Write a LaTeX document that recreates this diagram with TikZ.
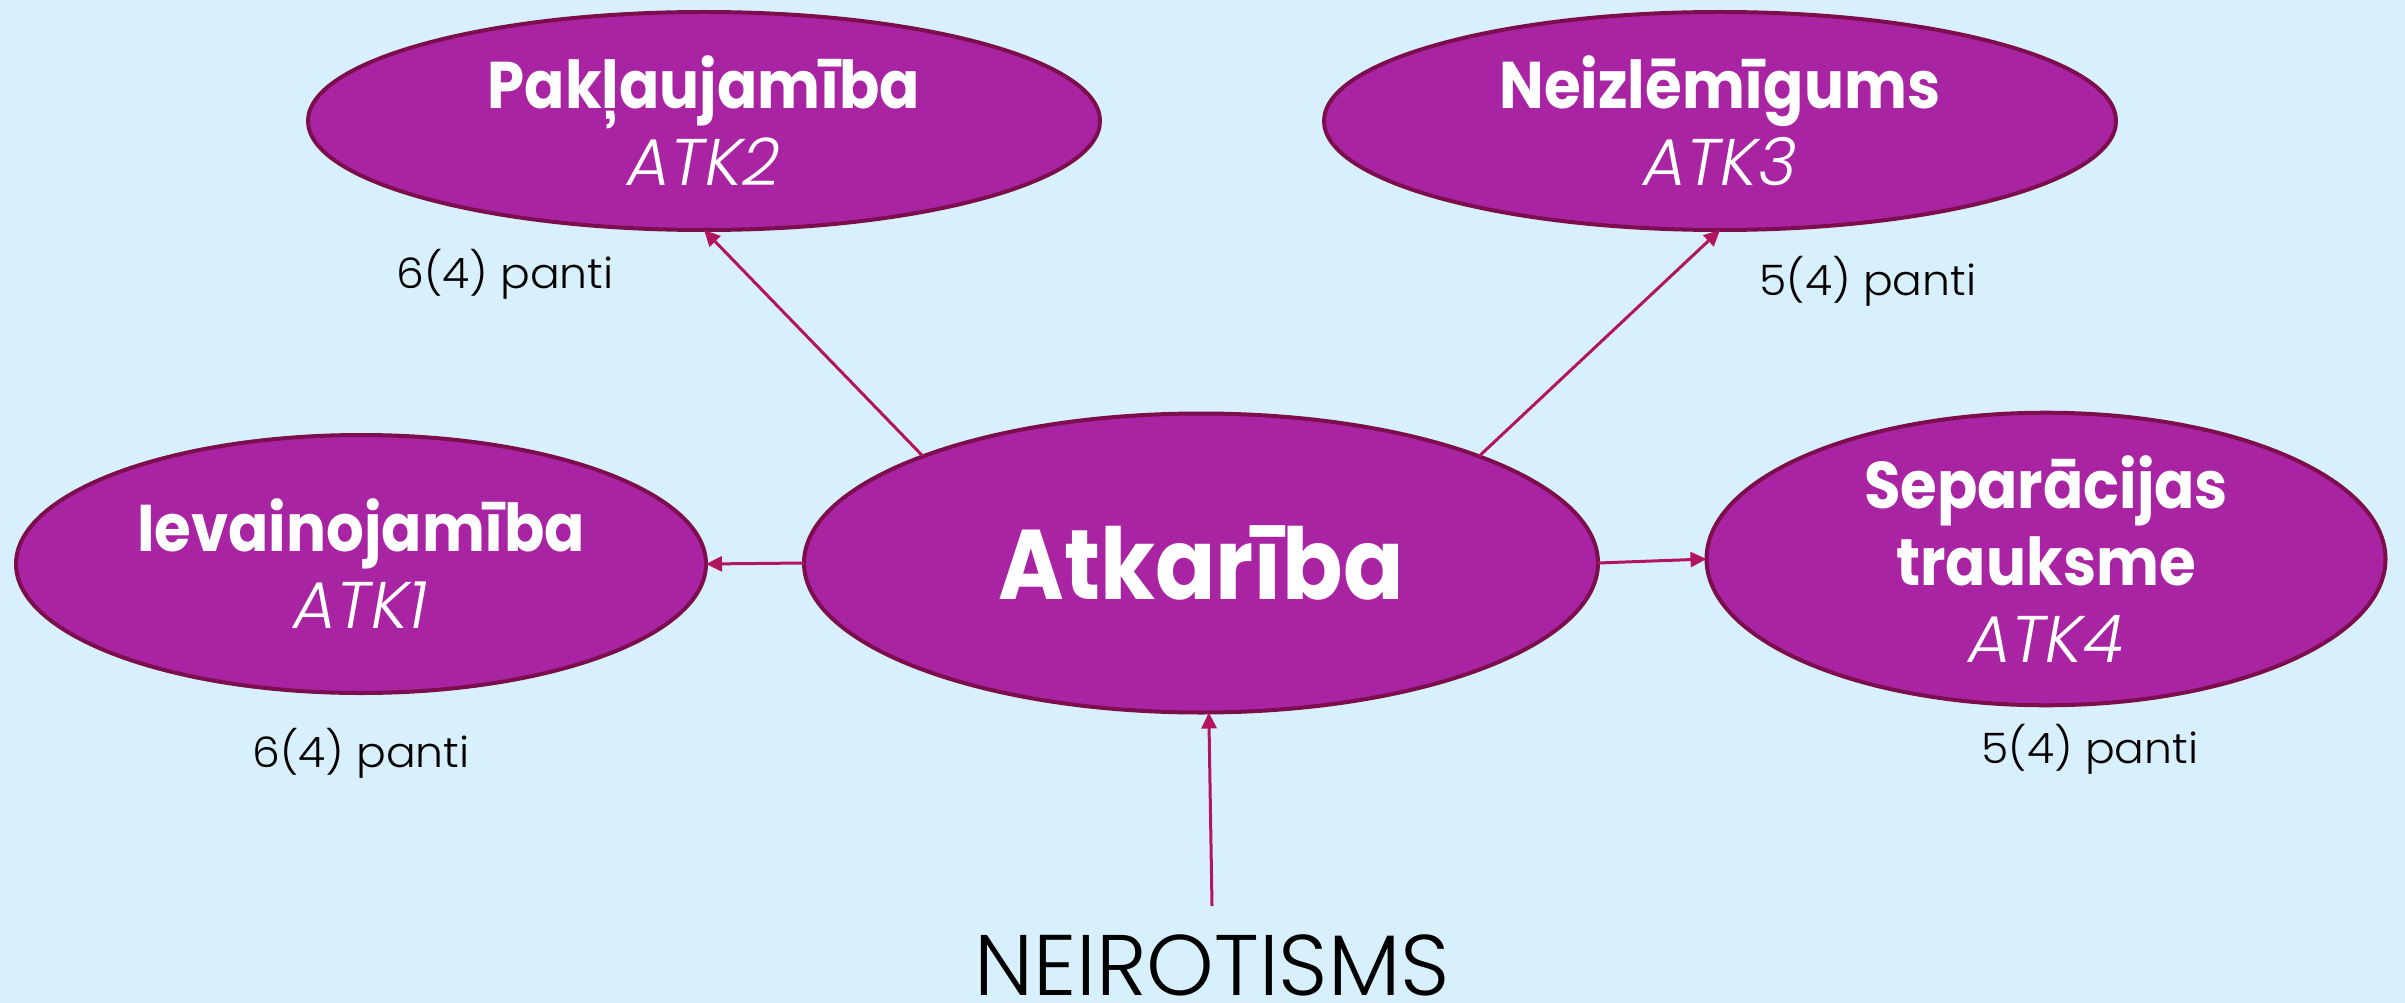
\documentclass[tikz,border=0pt]{standalone}
\usepackage{fontspec}
\setmainfont{Poppins}
\newfontfamily\popbold{Poppins Bold}[FakeStretch=0.9]
\newfontfamily\poplight{Poppins Light}
\newfontfamily\poplab{Poppins Light}[FakeStretch=1.05]
\newfontfamily\popit{Poppins Light Italic}
\usetikzlibrary{shapes.geometric,arrows.meta}
\definecolor{bgblue}{HTML}{D7F0FC}
\definecolor{ellfill}{HTML}{A924A2}
\definecolor{ellborder}{HTML}{7D0E4E}
\definecolor{arrowcol}{HTML}{B3145F}
\newcommand{\atkcode}[1]{{\popit #1}}
\tikzset{
  ell/.style={ellipse, draw=ellborder, fill=ellfill, line width=4pt, inner sep=0pt, outer sep=0pt,
    text=white, align=center, font=\popbold\fontsize{66}{77}\selectfont},
  countlabel/.style={anchor=base, text=black, inner sep=0pt, font=\poplab\fontsize{42}{48}\selectfont},
  conn/.style={draw=arrowcol, line width=3pt, -{Triangle[length=16pt,width=15pt]}}
}
\begin{document}
\begin{tikzpicture}[x=1pt,y=-1pt]
\fill[bgblue] (0,0) rectangle (2405,1003);
\useasboundingbox (0,0) rectangle (2405,1003);

\node[ell, minimum width=792pt, minimum height=218pt] (pak) at (704,121)
  {Pakļaujamība\\\atkcode{ATK2}};
\node[ell, minimum width=792pt, minimum height=218pt] (neiz) at (1720,121)
  {Neizlēmīgums\\\atkcode{ATK3}};
\node[ell, minimum width=690pt, minimum height=258pt] (iev) at (361,564)
  {Ievainojamība\\\atkcode{ATK1}};
\node[ell, minimum width=679pt, minimum height=279pt] (sep) at (2046,559)
  {Separācijas\\trauksme\\\atkcode{ATK4}};
\node[ell, minimum width=794pt, minimum height=299pt, font=\popbold\fontsize{99}{110}\selectfont] (atk) at (1201,563)
  {Atkarība};

\node[countlabel] (l2) at (505,288) {6(4) panti};
\node[countlabel] (l3) at (1868,295) {5(4) panti};
\node[countlabel] (l1) at (361,767) {6(4) panti};
\node[countlabel] (l4) at (2090,763) {5(4) panti};

\node[anchor=base, inner sep=0pt, text=black, font=\poplight\fontsize{86}{100}\selectfont] (neir) at (1212,995) {NEIROTISMS};
\coordinate (nstart) at (1212,906);

\draw[conn] (atk.159) -- (pak.south);
\draw[conn] (atk.21) -- (neiz.south);
\draw[conn] (atk.west) -- (iev.east);
\draw[conn] (atk.east) -- (sep.west);
\draw[conn] (nstart) -- (atk.273);
\end{tikzpicture}
\end{document}
